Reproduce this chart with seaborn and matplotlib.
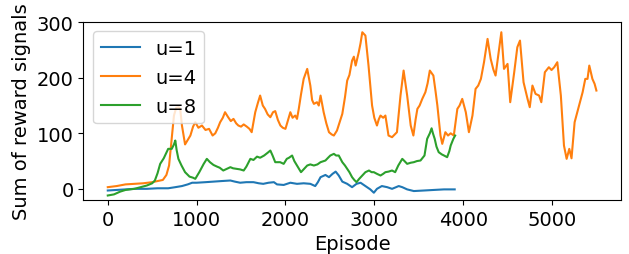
import numpy as np
import pandas as pd
import matplotlib
matplotlib.use('Agg')
import matplotlib.pyplot as plt
import seaborn as sns

# values (episode, reward sum)
ep_u1 = [0, 100, 200, 300, 440, 560, 680, 760, 835, 900, 950, 1000, 1100, 1190, 1280, 1380, 1430,
         1490, 1560, 1640, 1700, 1750, 1810, 1870, 1905, 1980, 2055, 2130, 2205, 2280, 2335, 2365,
         2395, 2450, 2490, 2530, 2565, 2600, 2640, 2695, 2750, 2800, 2845, 2900, 2955, 2995, 3030,
         3085, 3145, 3200, 3275, 3315, 3370, 3445, 3560, 3670, 3785, 3905]
rw_u1 = [-3, -2, -1, 0, 0, 1, 1, 3, 5, 8, 11, 11, 12, 13, 14, 15, 13,
         11, 12, 12, 10, 9, 11, 12, 8, 7, 11, 9, 10, 9, 5, 12,
         21, 25, 21, 27, 31, 24, 13, 9, 3, 9, 11, 5, -1, -7, 0,
         5, 3, 0, 5, 3, -1, -4, -3, -2, -1, -1]

ep_u4 = [0, 100, 200, 300, 400, 500, 560, 620, 660, 690, 720, 745, 770, 800, 815, 835, 870, 900,
         930, 960, 985, 1020, 1060, 1100, 1140, 1180, 1210, 1240, 1265, 1295, 1320, 1355, 1385,
         1415, 1445, 1470, 1500, 1530, 1565, 1595, 1620, 1660, 1690, 1715, 1745, 1770, 1800, 1830,
         1860, 1885, 1915, 1943, 1970, 2000, 2030, 2055, 2080, 2110, 2130, 2150, 2175, 2205, 2245,
         2280, 2300, 2320, 2355, 2375, 2395, 2430, 2460, 2490, 2520, 2545, 2580, 2610, 2640, 2670,
         2695, 2720, 2750, 2770, 2790, 2825, 2845, 2865, 2900, 2935, 2975, 3000, 3030, 3050, 3070,
         3100, 3125, 3160, 3200, 3230, 3255, 3295, 3330, 3370, 3410, 3440, 3465, 3485, 3510, 3540,
         3575, 3600, 3625, 3665, 3690, 3710, 3745, 3765, 3800, 3830, 3860, 3895, 3935, 3960, 3990,
         4030, 4065, 4105, 4140, 4170, 4200, 4235, 4275, 4310, 4340, 4365, 4405, 4430, 4460, 4500,
         4530, 4575, 4610, 4640, 4680, 4725, 4750, 4780, 4815, 4855, 4880, 4920, 4965, 4995, 5025,
         5060, 5100, 5135, 5165, 5195, 5220, 5255, 5305, 5345, 5375, 5400, 5420, 5455, 5480, 5500]
rw_u4 = [3, 5, 8, 9, 10, 12, 14, 16, 25, 42, 90, 132, 146, 147, 144, 114, 80, 88,
         96, 112, 120, 110, 114, 106, 108, 96, 100, 110, 120, 128, 138, 129, 122,
         126, 118, 114, 112, 116, 112, 108, 102, 138, 155, 168, 150, 144, 134, 129,
         138, 140, 124, 114, 110, 108, 124, 138, 128, 132, 126, 144, 170, 198, 216,
         186, 160, 153, 156, 150, 168, 138, 118, 102, 98, 96, 105, 120, 135, 165,
         195, 205, 231, 238, 222, 246, 262, 282, 276, 222, 150, 128, 114, 125, 132,
         128, 132, 96, 93, 98, 102, 168, 213, 168, 114, 96, 125, 144, 150, 162,
         174, 190, 213, 204, 175, 150, 96, 81, 102, 96, 100, 96, 144, 150, 162,
         138, 102, 132, 180, 186, 198, 228, 270, 234, 215, 204, 252, 282, 216, 225,
         156, 210, 255, 267, 192, 162, 147, 186, 171, 168, 156, 210, 219, 214, 219,
         228, 168, 78, 54, 72, 55, 120, 150, 174, 198, 198, 222, 198, 189, 177]

ep_u8 = [0, 70, 140, 200, 300, 440, 500, 530, 560, 590, 630, 680, 720, 745, 760, 775, 795, 830,
         870, 920, 960, 985, 1030, 1080, 1115, 1150, 1190, 1230, 1260, 1300, 1340, 1380, 1410,
         1450, 1490, 1530, 1560, 1605, 1640, 1680, 1715, 1760, 1800, 1830, 1855, 1885, 1915, 1940,
         1980, 2015, 2040, 2075, 2100, 2130, 2175, 2210, 2245, 2280, 2320, 2360, 2395, 2450, 2480,
         2505, 2545, 2570, 2600, 2640, 2670, 2695, 2720, 2750, 2775, 2800, 2830, 2865, 2900, 2940,
         2970, 2995, 3030, 3070, 3100, 3125, 3160, 3200, 3235, 3270, 3315, 3340, 3370, 3410, 3445,
         3480, 3520, 3565, 3595, 3625, 3645, 3660, 3680, 3700, 3725, 3760, 3785, 3820, 3845, 3860,
         3890, 3910]
rw_u8 = [-12, -10, -5, -2, 0, 6, 10, 15, 28, 45, 55, 72, 72, 80, 87, 70, 54, 42,
         30, 22, 20, 18, 30, 45, 54, 48, 43, 40, 38, 33, 36, 39, 37,
         36, 35, 33, 40, 54, 52, 58, 56, 60, 65, 69, 60, 48, 48, 48,
         45, 54, 56, 60, 50, 42, 30, 36, 42, 44, 42, 44, 48, 51, 56,
         60, 63, 60, 60, 48, 42, 36, 30, 21, 16, 12, 18, 24, 30, 33,
         30, 30, 27, 24, 27, 30, 31, 33, 30, 42, 54, 50, 45, 47, 48,
         50, 51, 60, 90, 100, 109, 100, 90, 76, 66, 62, 60, 57, 68, 78,
         90, 96]

labels = ['u=1', 'u=4', 'u=8']
colors = ['#1f77b4', '#ff7f0e', '#2ca02c']

plt.rcParams['font.family'] = ['DejaVu Sans']
plt.rcParams['font.size'] = 14

fig, ax = plt.subplots(figsize=(6.29, 2.55), dpi=100)
fig.subplots_adjust(left=0.1325, right=0.987, top=0.911, bottom=0.212)

for ep, rw, lab, col in zip([ep_u1, ep_u4, ep_u8], [rw_u1, rw_u4, rw_u8], labels, colors):
    sns.lineplot(x=ep, y=rw, ax=ax, color=col, label=lab, linewidth=1.5,
                 estimator=None, sort=False)

ax.set_xlim(-275, 5775)
ax.set_ylim(-20, 301)
ax.set_xticks([0, 1000, 2000, 3000, 4000, 5000])
ax.set_yticks([0, 100, 200, 300])
ax.set_xlabel('Episode', fontsize=14)
ax.set_ylabel('Sum of reward signals', fontsize=14)
ax.tick_params(labelsize=14)
ax.legend(loc='upper left', fontsize=14)

plt.savefig('out.png', dpi=100)
